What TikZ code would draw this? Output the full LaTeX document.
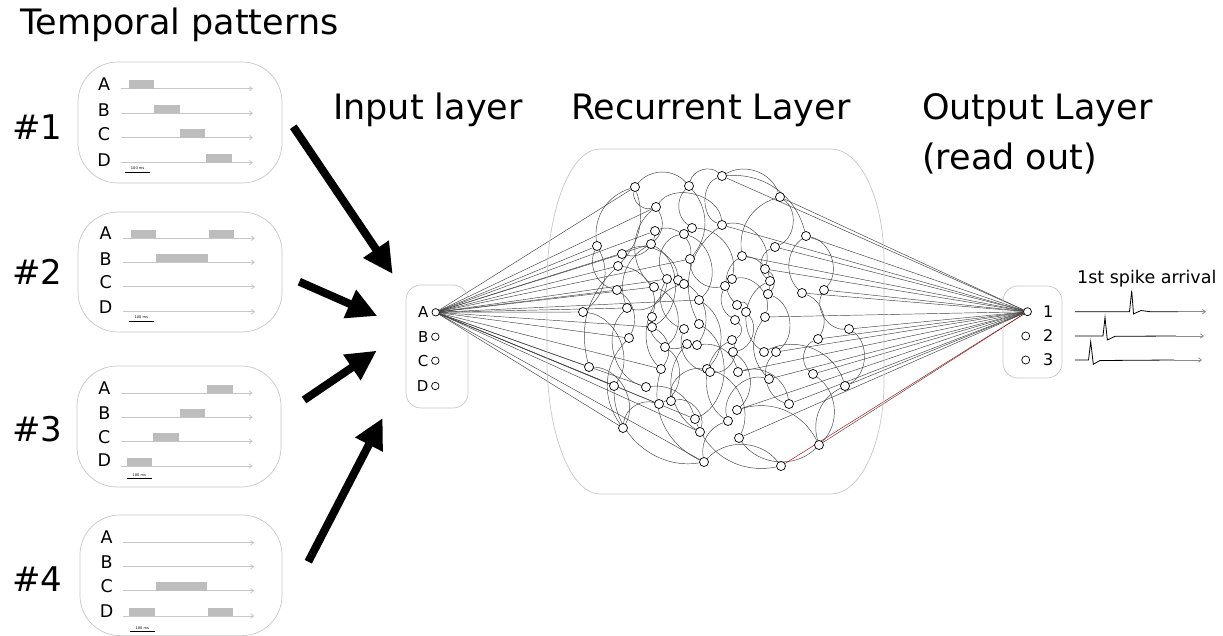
\documentclass[tikz,border=0pt]{standalone}
\usepackage{fontspec}
\setmainfont{DejaVu Sans}
\usetikzlibrary{arrows.meta,calc}
\pgfdeclarelayer{bg}
\pgfsetlayers{bg,main}
\newcommand\pbar[3]{\fill[black!26] (#1,#3-8.5) rectangle (#2,#3);}
\newcommand\scalebar[3]{\draw[line width=0.9pt] (#1,#3) -- (#2,#3); \node[font=\fontsize{3.6}{4}\selectfont, inner sep=0] at ({(#1+#2)/2},#3-4) {100 ms};}
\begin{document}
\begin{tikzpicture}[x=1pt,y=-1pt,
  frame/.style={draw=black!22, line width=0.7pt, rounded corners=#1},
  frame/.default=15pt,
  tl/.style={draw=black!22, line width=0.8pt, -{Straight Barb[length=3pt,width=4.5pt]}},
  letter/.style={font=\fontsize{17.5}{20}\selectfont, inner sep=0},
  big/.style={font=\fontsize{35}{42}\selectfont, inner sep=0, anchor=base west},
  num/.style={font=\fontsize{34}{40}\selectfont, inner sep=0, anchor=base west},
  neuron/.style={circle, draw=black, line width=0.7pt, fill=white, minimum size=9pt, inner sep=0pt},
  syn/.style={draw=black!75, line width=0.45pt},
  bigarrow/.style={line width=8pt, -{Triangle[length=30pt,width=29pt]}},
  spike/.style={draw=black, line width=0.8pt, line join=miter},
  inlbl/.style={font=\fontsize{15}{18}\selectfont, inner sep=0, anchor=east},
]
\useasboundingbox (0,0) rectangle (1223,636);

% ---------- titles ----------
\node[big] (title) at (20,35) {Temporal patterns};
\node[big] (lblIn) at (333,120) {Input layer};
\node[big] (lblRec) at (571,120) {Recurrent Layer};
\node[big] (lblOut) at (922,120) {Output Layer};
\node[big] (lblOut2) at (922,170) {(read out)};
\node[num] (h1) at (12,140) {\#1};
\node[num] (h2) at (12,285) {\#2};
\node[num] (h3) at (12,441) {\#3};
\node[num] (h4) at (12,591) {\#4};

% ---------- pattern boxes ----------
\draw[frame=40pt] (78,62) rectangle (282,183);
\draw[frame=40pt] (78,212) rectangle (282,332);
\draw[frame=40pt] (77,366) rectangle (281,487);
\draw[frame=40pt] (80,515) rectangle (282,635.6);

% pattern 1
\node[letter] (p1A) at (104,84.3) {A};
\node[letter] (p1B) at (104,110.5) {B};
\node[letter] (p1C) at (104,134.3) {C};
\node[letter] (p1D) at (104,160) {D};
\draw[tl] (121,88.7) -- (253,88.7);
\draw[tl] (121,113.3) -- (253,113.3);
\draw[tl] (121,137.7) -- (253,137.7);
\draw[tl] (121,162.7) -- (253,162.7);
\pbar{128.7}{154}{88.7}
\pbar{154}{179.7}{113.3}
\pbar{179.7}{205}{137.7}
\pbar{206}{231.7}{162.7}
\scalebar{125}{150.3}{172.3}

% pattern 2
\node[letter] (p2A) at (105.7,233) {A};
\node[letter] (p2B) at (105.7,259) {B};
\node[letter] (p2C) at (105.7,282) {C};
\node[letter] (p2D) at (105.7,307) {D};
\draw[tl] (123.3,238.3) -- (255,238.3);
\draw[tl] (123.3,262.3) -- (255,262.3);
\draw[tl] (123.3,286.7) -- (255,286.7);
\draw[tl] (123.3,311.7) -- (255,311.7);
\pbar{130.7}{156.3}{238.3}
\pbar{208.7}{234}{238.3}
\pbar{156.3}{207.7}{262.3}
\scalebar{128.7}{154}{321.3}

% pattern 3
\node[letter] (p3A) at (104.3,388) {A};
\node[letter] (p3B) at (104.3,413) {B};
\node[letter] (p3C) at (104.3,437) {C};
\node[letter] (p3D) at (104.3,460) {D};
\draw[tl] (121,393) -- (252.7,393);
\draw[tl] (121,417.3) -- (252.7,417.3);
\draw[tl] (121,441.3) -- (252.7,441.3);
\draw[tl] (121,466) -- (252.7,466);
\pbar{207.3}{232.7}{393}
\pbar{179.7}{205}{417.3}
\pbar{153.3}{179}{441.3}
\pbar{126.7}{152}{466}
\scalebar{126.7}{151.7}{478.7}

% pattern 4
\node[letter] (p4A) at (106.7,537) {A};
\node[letter] (p4B) at (106.7,562) {B};
\node[letter] (p4C) at (106.7,586) {C};
\node[letter] (p4D) at (106.7,611) {D};
\draw[tl] (123,542.7) -- (254.3,542.7);
\draw[tl] (123,566.7) -- (254.3,566.7);
\draw[tl] (123,590.7) -- (254.3,590.7);
\draw[tl] (123,616) -- (254.3,616);
\pbar{155.7}{206.7}{590.7}
\pbar{129}{154.7}{616}
\pbar{207.7}{233}{616}
\scalebar{129.7}{155}{631.7}

% ---------- big arrows ----------
\coordinate (a1s) at (293.3,126.7); \coordinate (a1e) at (392.7,274);
\coordinate (a2s) at (299.3,281.7); \coordinate (a2e) at (377.3,316);
\coordinate (a3s) at (304,400);     \coordinate (a3e) at (376.7,350.7);
\coordinate (a4s) at (308.3,561.7); \coordinate (a4e) at (382.7,418);
\draw[bigarrow] (a1s) -- (a1e);
\draw[bigarrow] (a2s) -- (a2e);
\draw[bigarrow] (a3s) -- (a3e);
\draw[bigarrow] (a4s) -- (a4e);

% ---------- input layer ----------
\draw[frame=15pt] (406,285) rectangle (468,408);
\node[inlbl] (lA) at (428.5,312.3) {A};
\node[inlbl] (lB) at (428.5,336.7) {B};
\node[inlbl] (lC) at (428.5,360.7) {C};
\node[inlbl] (lD) at (428.5,386) {D};
\node[neuron, minimum size=7.5pt] (iA) at (435.7,312.3) {};
\node[neuron, minimum size=7.5pt] (iB) at (435.3,336.7) {};
\node[neuron, minimum size=7.5pt] (iC) at (435.3,360.7) {};
\node[neuron, minimum size=7.5pt] (iD) at (435.3,386) {};

% ---------- recurrent layer ----------
\draw[draw=black!22, line width=0.7pt]
  (600,149) -- (831,149)
  arc[start angle=-90, end angle=0, x radius=53, y radius=112] -- (884,382)
  arc[start angle=0, end angle=90, x radius=53, y radius=112] -- (600,494)
  arc[start angle=90, end angle=180, x radius=53, y radius=135] -- (547,284)
  arc[start angle=180, end angle=270, x radius=53, y radius=135] -- cycle;
\foreach \i/\x/\y in {
 1/635/187, 2/689/186, 3/722/176, 4/780/197, 5/656/207, 6/655/231, 7/684/234, 8/692/228,
 9/722/225, 10/597/246, 11/651/244, 12/622/254, 13/618/266, 14/690/259, 15/742/256, 16/806/236,
 17/775/247, 18/617/290, 19/654/287, 20/667/279, 21/678/280, 22/684/284, 23/732/279, 24/725/286,
 25/699/300, 26/627/308, 27/583/312, 28/737/305, 29/765/269, 30/770/281, 31/768/294, 32/802/293,
 33/824/290, 34/746/312, 35/765/317, 36/735/320, 37/652/317, 38/652/327, 39/684/329, 40/699/324,
 41/629/338, 42/665/347, 43/687/344, 44/697/345, 45/732/340, 46/733/352, 47/589/367, 48/661/369,
 49/707/369, 50/710/372, 51/738/372, 52/614/386, 53/646/387, 54/671/401, 55/659/404, 56/737/410,
 57/695/419, 58/728/421, 59/700/432, 60/739/438, 61/623/428, 62/704/462, 63/849/329, 64/818/339,
 65/764/352, 66/776/352, 67/769/379, 68/813/374, 69/845/386, 70/789/404, 71/819/445, 72/781/466}
 \node[neuron] (n\i) at (\x,\y) {};

% ---------- output layer ----------
\draw[frame=15pt] (1003,286) rectangle (1062,378);
\node[neuron, minimum size=8pt] (o1) at (1027.5,311.7) {};
\node[neuron, minimum size=8pt] (o2) at (1025.7,336) {};
\node[neuron, minimum size=8pt] (o3) at (1025.7,360) {};
\node[font=\fontsize{16}{19}\selectfont, inner sep=0] (l1) at (1048.3,311.7) {1};
\node[font=\fontsize{16}{19}\selectfont, inner sep=0] (l2) at (1048.3,336) {2};
\node[font=\fontsize{16}{19}\selectfont, inner sep=0] (l3) at (1048.3,360) {3};
\node[font=\fontsize{17.5}{20}\selectfont, inner sep=0, anchor=base west] (spk) at (1077,283.5) {1st spike arrival};

% spike traces
\coordinate (s1a) at (1075,311.7); \coordinate (s1b) at (1206,311.7);
\coordinate (s2a) at (1075,336);   \coordinate (s2b) at (1204,336);
\coordinate (s3a) at (1075,360);   \coordinate (s3b) at (1202,360);
\draw[spike] (s1a) -- (1129.5,311.7) -- (1131.7,290.7) -- (1133.5,314) -- (1141,310.5) -- (1150,311.7) -- (1178,311.7);
\draw[spike] (s2a) -- (1103,336) -- (1105,317.3) -- (1107.3,340) -- (1115,336.3) -- (1176,336);
\draw[spike] (s3a) -- (1088.5,360) -- (1090.7,341.7) -- (1093.3,364.3) -- (1100,360.5) -- (1174,360);
\draw[black!45, line width=0.8pt, -{Straight Barb[length=3pt,width=4.5pt]}] (1178,311.7) -- (s1b);
\draw[black!45, line width=0.8pt, -{Straight Barb[length=3pt,width=4.5pt]}] (1176,336) -- (s2b);
\draw[black!45, line width=0.8pt, -{Straight Barb[length=3pt,width=4.5pt]}] (1174,360) -- (s3b);

% ---------- connections ----------
\begin{pgfonlayer}{bg}
\foreach \t in {1,5,10,11,12,13,6,14,18,19,25,26,27,41,47,48,52,53,55,57,59,61,62,38,20}
  \draw[syn] (iA) -- (n\t);
\foreach \t in {3,4,9,15,16,17,29,32,33,35,51,56,60,63,64,66,67,68,69,70,71}
  \draw[syn] (n\t) -- (o1);
\draw[syn, draw=red!75!black] (n72) -- (o1);
\foreach \a/\b/\c in {
 1/13/30, 1/5/-60, 1/2/50, 2/3/60, 2/8/-50, 3/4/50, 3/9/-70, 4/17/60, 4/15/-40,
 5/11/40, 5/19/-50, 6/14/60, 7/20/-60, 8/23/50, 9/29/60, 10/18/-50, 10/27/40,
 11/26/-40, 12/21/60, 13/47/-30, 14/24/-50, 15/31/50, 16/33/60, 16/32/-50, 17/30/-60,
 18/41/40, 19/42/60, 20/39/-50, 21/44/50, 22/48/-60, 23/35/60, 24/36/-40, 25/49/50,
 26/53/-60, 27/52/60, 28/34/70, 29/31/50, 30/65/-60, 31/66/60, 32/64/50, 33/63/-60,
 34/46/60, 35/67/-40, 36/45/60, 37/43/-70, 38/48/50, 39/50/-50, 40/57/60, 41/61/-40,
 42/55/60, 43/59/-50, 44/51/40, 45/58/-60, 46/56/50, 47/61/60, 48/62/-40, 49/60/50,
 50/54/-60, 51/70/50, 52/62/-50, 53/57/40, 54/59/60, 55/61/-50, 56/71/40, 57/72/-40,
 58/67/60, 60/71/-50, 62/72/50, 63/69/60, 64/68/-60, 65/69/50, 66/70/-60, 68/71/50,
 69/71/-40, 12/6/-50, 2/14/40, 7/25/60, 9/40/-40, 20/26/50, 11/38/60, 15/28/-50,
 1/10/-40, 5/9/70, 3/16/40, 45/50/60, 62/58/40, 13/37/50}
  \draw[syn] (n\a) to[bend left=\c] (n\b);
\end{pgfonlayer}
\end{tikzpicture}
\end{document}
